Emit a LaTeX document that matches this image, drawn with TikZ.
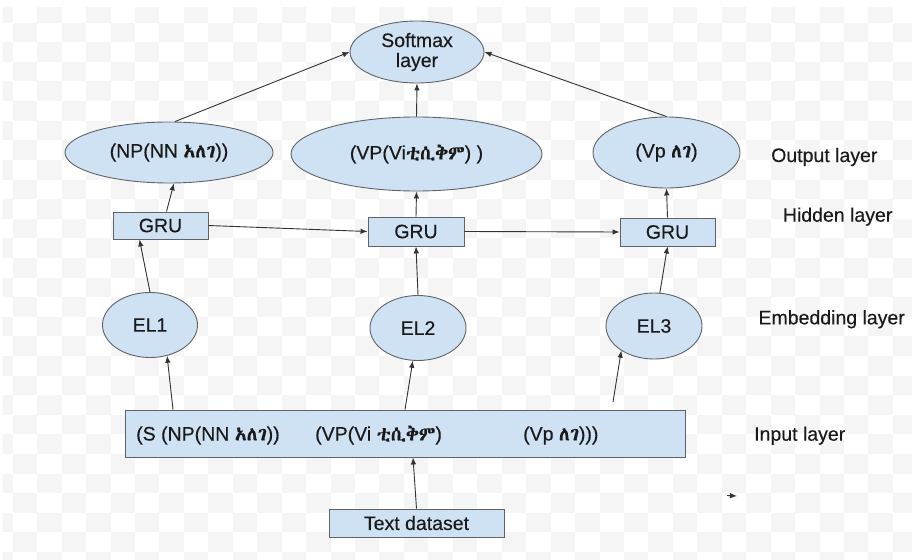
\documentclass[tikz,border=0pt]{standalone}
\usepackage{fontspec}
\setmainfont{Liberation Sans}[FakeBold=0.25]
\IfFontExistsTF{Abyssinica SIL}{\newfontfamily\ethfont{Abyssinica SIL}[FakeBold=0.25]}{%
  \IfFontExistsTF{FreeSerif.otf}{\newfontfamily\ethfont{FreeSerif.otf}[FakeBold=0.25]}{\newfontfamily\ethfont{DejaVu Sans}}}
\newcommand{\eth}[1]{{\ethfont #1}}
\usetikzlibrary{shapes.geometric,arrows.meta,calc}
\definecolor{boxfill}{HTML}{CFE2F3}
\definecolor{boxline}{HTML}{5F6368}
\definecolor{arrline}{HTML}{333333}
\definecolor{txt}{HTML}{1A1A1A}
\definecolor{bgg}{HTML}{F5F5F5}
\tikzset{
  every node/.style={font=\fontsize{19.5}{20}\selectfont, text=txt},
  ell/.style={ellipse, draw=boxline, fill=boxfill, line width=0.9pt, inner sep=0pt},
  rbox/.style={rectangle, draw=boxline, fill=boxfill, line width=0.9pt, inner sep=0pt},
  conn/.style={draw=arrline, line width=0.9pt, -{Latex[length=7pt,width=5.5pt]}},
  lay/.style={anchor=base west, inner sep=0pt},
}
\begin{document}
\begin{tikzpicture}[x=1pt,y=-1pt]
\useasboundingbox (0,0) rectangle (912,559);
\fill[white] (0,0) rectangle (912,559);
\begin{scope}
\clip (2.7,7.3) rectangle (912,559);
\foreach \c in {-1,...,37}{
  \foreach \r in {-1,...,27}{
    \pgfmathtruncatemacro{\myparity}{mod(\c+\r+100,2)}
    \ifnum\myparity=0
      \fill[bgg] (12.7+24.45*\c,22.7+19.6*\r) rectangle ++(24.45,19.6);
    \fi
  }
}
\end{scope}

% nodes
\node[ell, minimum width=134pt, minimum height=62pt, align=center] (soft) at (417,52) {Softmax\\layer};
\node[ell, minimum width=208pt, minimum height=61pt] (np) at (169,152.5) {(NP(NN \eth{አለገ}))};
\node[ell, minimum width=251pt, minimum height=74pt] (vp) at (416.5,154) {(VP(Vi\eth{ቲሲቅም}) )};
\node[ell, minimum width=147pt, minimum height=71pt] (vpp) at (666.5,152.5) {(Vp \eth{ለገ})};

\node[rbox, minimum width=95pt, minimum height=27pt] (gru1) at (160.5,225.5) {GRU};
\node[rbox, minimum width=96pt, minimum height=29pt] (gru2) at (416,231.5) {GRU};
\node[rbox, minimum width=95pt, minimum height=28pt] (gru3) at (667.5,232) {GRU};

\node[ell, minimum width=95pt, minimum height=65pt] (el1) at (150,325) {EL1};
\node[ell, minimum width=96pt, minimum height=65pt] (el2) at (418,328) {EL2};
\node[ell, minimum width=96pt, minimum height=66pt] (el3) at (654,326) {EL3};

\node[rbox, minimum width=560pt, minimum height=47pt] (input) at (405,433.5) {};
\node[lay] (t1) at (136,440.5) {(S (NP(NN \eth{አለገ}))};
\node[lay] (t2) at (315,440.5) {(VP(Vi \eth{ቲሲቅም})};
\node[lay] (t3) at (523,440.5) {(Vp \eth{ለገ})))};

\node[rbox, minimum width=175pt, minimum height=28pt] (tds) at (416.5,523) {Text dataset};

\node[lay] (l1) at (771,162) {Output layer};
\node[lay] (l2) at (782.7,221.7) {Hidden layer};
\node[lay] (l3) at (758.3,324.3) {Embedding layer};
\node[lay] (l4) at (754,440.7) {Input layer};

\coordinate (e3s) at (613,402);
\coordinate (s1) at (727,495.5);
\coordinate (s2) at (737,496);

% connectors
\draw[conn] ([xshift=6pt]np.north) -- (soft.west);
\draw[conn] (vp.north) -- (soft.south);
\draw[conn] (vpp.north) -- (soft.east);
\draw[conn] ([xshift=6pt]gru1.north) -- (np.-81);
\draw[conn] (gru2.north) -- (vp.south);
\draw[conn] (gru3.north) -- (vpp.south);
\draw[conn] (gru1.east) -- (gru2.west);
\draw[conn] (gru2.east) -- (gru3.west);
\draw[conn] (el1.north) -- ([xshift=-21pt]gru1.south);
\draw[conn] (el2.north) -- (gru2.south);
\draw[conn] (el3.80) -- (gru3.south);
\draw[conn] ([xshift=-232pt]input.north) -- (el1.-61);
\draw[conn] (input.north) -- (el2.-99);
\draw[conn] (e3s) -- (el3.-143);
\draw[conn] (tds.north) -- ([xshift=8pt]input.south);
\draw[conn] (s1) -- (s2);
\end{tikzpicture}
\end{document}
